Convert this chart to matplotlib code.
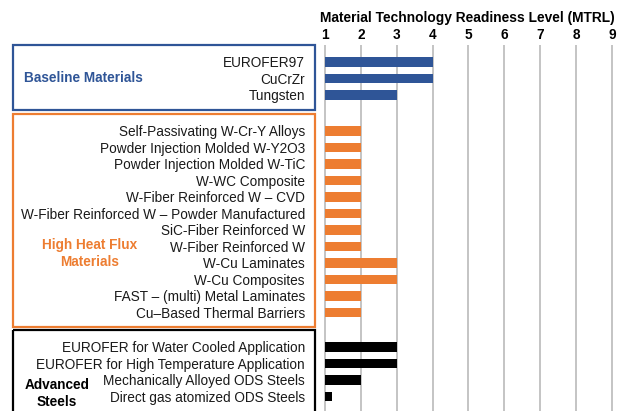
import matplotlib.pyplot as plt
from matplotlib.patches import Rectangle
from matplotlib.transforms import blended_transform_factory

plt.rcParams['font.family'] = ['Liberation Sans', 'DejaVu Sans']

# groups of materials and their MTRL level
baseline = ["EUROFER97", "CuCrZr", "Tungsten"]
baseline_mtrl = [4, 4, 3]

hhf = ["Self-Passivating W-Cr-Y Alloys", "Powder Injection Molded W-Y2O3",
       "Powder Injection Molded W-TiC", "W-WC Composite",
       "W-Fiber Reinforced W \u2013 CVD",
       "W-Fiber Reinforced W \u2013 Powder Manufactured",
       "SiC-Fiber Reinforced W", "W-Fiber Reinforced W", "W-Cu Laminates",
       "W-Cu Composites", "FAST \u2013 (multi) Metal Laminates",
       "Cu\u2013Based Thermal Barriers"]
hhf_mtrl = [2, 2, 2, 2, 2, 2, 2, 2, 3, 3, 2, 2]

steels = ["EUROFER for Water Cooled Application",
          "EUROFER for High Temperature Application",
          "Mechanically Alloyed ODS Steels", "Direct gas atomized ODS Steels"]
steels_mtrl = [3, 3, 2, 1.19]

levels = [1, 2, 3, 4, 5, 6, 7, 8, 9]

groups = [
    ("Baseline Materials", baseline, baseline_mtrl, "#2F5597", 0.0),
    ("High Heat Flux\nMaterials", hhf, hhf_mtrl, "#ED7D31", 4.18),
    ("Advanced\nSteels", steels, steels_mtrl, "black", 17.27),
]

fig = plt.figure(figsize=(6.21, 4.11), dpi=100)
ax = fig.add_axes([323.2 / 621, 0, (613.8 - 323.2) / 621, (411 - 45) / 411])
ax.set_xlim(0.95, 9.05)
ax.set_ylim(21.15, -1.03)

for lv in levels:
    ax.axvline(lv, color="#BFBFBF", lw=1.3, zorder=0)

tr = blended_transform_factory(fig.transFigure, ax.transData)

group_label_pos = {
    "Baseline Materials": (0.135, 1.0),
    "High Heat Flux\nMaterials": (0.145, 11.6),
    "Advanced\nSteels": (0.092, 20.1),
}

for name, items, vals, col, start in groups:
    ys = [start + i for i in range(len(items))]
    ax.barh(ys, [v - 1 for v in vals], left=1, height=0.55, color=col, zorder=2)
    for y, lab in zip(ys, items):
        ax.text(305 / 621, y + 0.08, lab, transform=tr, ha="right", va="center",
                fontsize=9.8, color="#1a1a1a", clip_on=False)
    top = ys[0] - 1.0
    bottom = ys[-1] + 0.9
    if name.startswith("Advanced"):
        bottom = ys[-1] + 3
    rect = Rectangle((13 / 621, top), (315 - 13) / 621, bottom - top,
                     transform=tr, fill=False, edgecolor=col, lw=1.6,
                     clip_on=False)
    fig.add_artist(rect)
    gx, gy = group_label_pos[name]
    ax.text(gx, gy, name, transform=tr, ha="center", va="center",
            fontsize=9.8, fontweight="bold", color=col, linespacing=1.25,
            clip_on=False)

ax.xaxis.tick_top()
ax.set_xticks(levels)
ax.set_xticklabels([str(v) for v in levels], fontweight="bold", fontsize=9.8)
ax.tick_params(axis="x", length=0, pad=2)
ax.set_yticks([])
for s in ax.spines.values():
    s.set_visible(False)

fig.text(467 / 621, 1 - 18 / 411, "Material Technology Readiness Level (MTRL)",
         ha="center", va="center", fontsize=9.9, fontweight="bold")

fig.savefig("out.png", dpi=100)
